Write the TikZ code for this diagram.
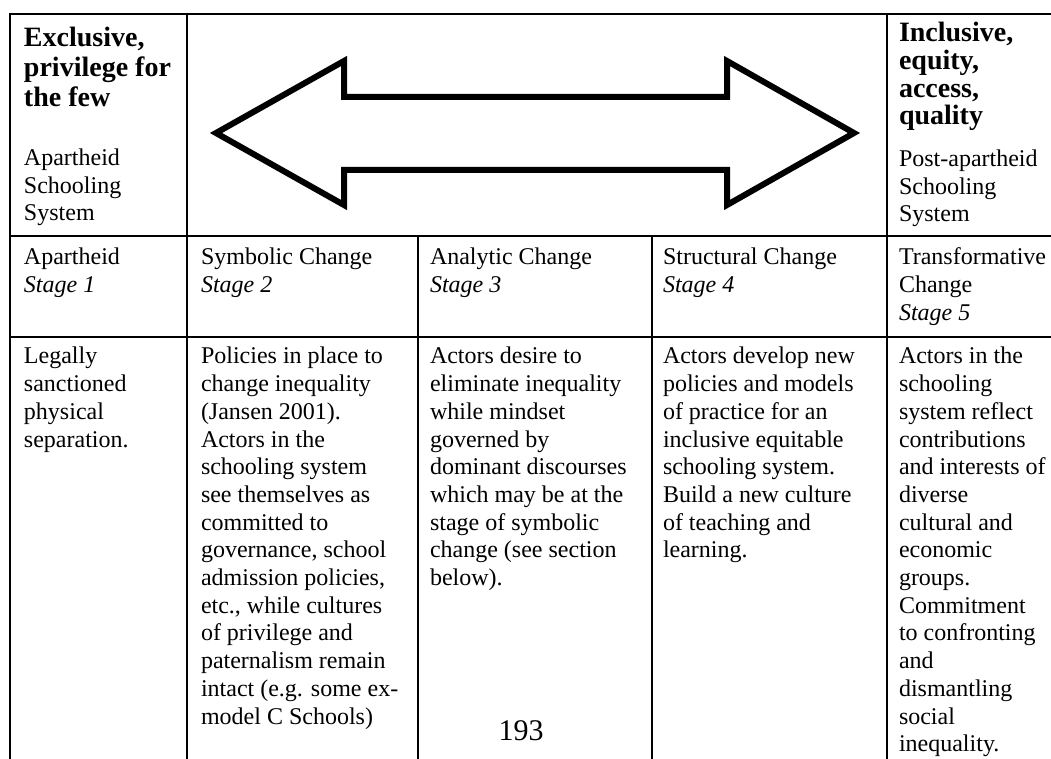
\documentclass[tikz,border=0pt]{standalone}
\usepackage{fontspec}
\setmainfont{Liberation Serif}
% body text and heading sizes
\newcommand{\bodysize}{\fontsize{12pt}{13.85pt}\selectfont}
\newcommand{\headsize}{\fontsize{14pt}{15pt}\selectfont\bfseries}
\newcommand{\headsizetight}{\fontsize{14pt}{13.8pt}\selectfont\bfseries}
% a top-aligned block of ragged-right lines, baseline on its first line
\newcommand{\celltext}[2]{\parbox[t]{150pt}{\raggedright #1#2}}
\begin{document}
\begin{tikzpicture}[x=0.5pt,y=-0.5pt,
  rule/.style={line width=1pt},
  bigarrow/.style={line width=3pt, miter limit=10, line join=miter},
  txt/.style={anchor=base west, inner sep=0pt, outer sep=0pt},
]
\useasboundingbox (0,0) rectangle (1051,759);

% table rules
\draw[rule] (10,759) -- (10,14) -- (1051,14);
\draw[rule] (10,236) -- (1051,236);
\draw[rule] (10,337) -- (1051,337);
\draw[rule] (187,14) -- (187,759);
\draw[rule] (418,236) -- (418,759);
\draw[rule] (652,236) -- (652,759);
\draw[rule] (887,14) -- (887,759);

% double-headed outline arrow
\draw[bigarrow] (216,133) -- (344,61) -- (344,97) -- (727,97) -- (727,61)
  -- (854,133) -- (727,205) -- (727,170) -- (344,170) -- (344,205) -- cycle;

% header row
\node[txt] (exclusive) at (24,47) {\celltext{\headsize}{Exclusive,\\privilege for\\the few}};
\node[txt] (oldsystem) at (24,166) {\celltext{\fontsize{12pt}{13.75pt}\selectfont}{Apartheid\\Schooling\\System}};
\node[txt] (inclusive) at (899,42) {\celltext{\headsizetight}{Inclusive,\\equity,\\access,\\quality}};
\node[txt] (newsystem) at (899,167) {\celltext{\fontsize{12pt}{13.75pt}\selectfont}{Post-apartheid\\Schooling\\System}};

% stage row
\node[txt] (stage1) at (24,265) {\celltext{\bodysize}{Apartheid\\\textit{Stage 1}}};
\node[txt] (stage2) at (201,265) {\celltext{\bodysize}{Symbolic Change\\\textit{Stage 2}}};
\node[txt] (stage3) at (430,265) {\celltext{\bodysize}{Analytic Change\\\textit{Stage 3}}};
\node[txt] (stage4) at (663,265) {\celltext{\bodysize}{Structural Change\\\textit{Stage 4}}};
\node[txt] (stage5) at (899,265) {\celltext{\bodysize}{Transformative\\Change\\\textit{Stage 5}}};

% description row
\node[txt] (desc1) at (24,364) {\celltext{\bodysize}{Legally\\sanctioned\\physical\\separation.}};
\node[txt] (desc2) at (201,364) {\celltext{\bodysize}{Policies in place to\\change inequality\\(Jansen 2001).\\Actors in the\\schooling system\\see themselves as\\committed to\\governance, school\\admission policies,\\etc., while cultures\\of privilege and\\paternalism remain\\intact (e.g. some ex-\\model C Schools)}};
\node[txt] (desc3) at (430,364) {\celltext{\bodysize}{Actors desire to\\eliminate inequality\\while mindset\\governed by\\dominant discourses\\which may be at the\\stage of symbolic\\change (see section\\below).}};
\node[txt] (desc4) at (663,364) {\celltext{\bodysize}{Actors develop new\\policies and models\\of practice for an\\inclusive equitable\\schooling system.\\Build a new culture\\of teaching and\\learning.}};
\node[txt] (desc5) at (899,364) {\celltext{\bodysize}{Actors in the\\schooling\\system reflect\\contributions\\and interests of\\diverse\\cultural and\\economic\\groups.\\Commitment\\to confronting\\and\\dismantling\\social\\inequality.}};

% page number
\node[anchor=base, inner sep=0pt] (pagenum) at (521,740) {\fontsize{15pt}{17pt}\selectfont 193};
\end{tikzpicture}
\end{document}
